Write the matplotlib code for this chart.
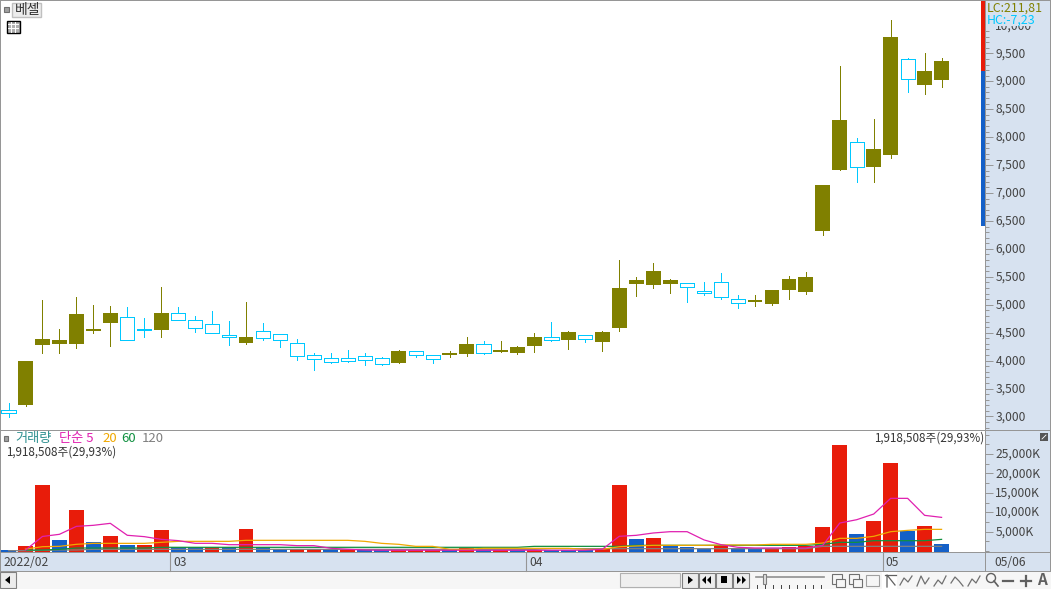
import matplotlib
matplotlib.use("Agg")
import matplotlib.pyplot as plt
from matplotlib.patches import Rectangle, Polygon
from matplotlib.ticker import MultipleLocator, FixedLocator, FuncFormatter
from matplotlib.transforms import ScaledTranslation
import numpy as np

plt.rcParams['font.family'] = ['Noto Sans CJK KR', 'DejaVu Sans']

W, H = 1051, 589

# price data
opens = [3111, 3206, 4280, 4298, 4298, 4530, 4674, 4776, 4565, 4548, 4847, 4722, 4650, 4459,
         4316, 4525, 4471, 4310, 4095, 4042, 4042, 4078, 4042, 3958, 4167, 4095, 4101, 4119,
         4292, 4155, 4137, 4262, 4418, 4369, 4453, 4334, 4584, 5372, 5354, 5372, 5384, 5241,
         5402, 5098, 5049, 5014, 5264, 5228, 6320, 7412, 7908, 7466, 7681, 9394, 8934, 9023]
closes = [3068, 3993, 4387, 4369, 4835, 4566, 4853, 4375, 4555, 4853, 4733, 4590, 4500, 4423,
          4423, 4410, 4375, 4088, 4035, 3981, 3999, 4017, 3945, 4172, 4106, 4035, 4137, 4298,
          4142, 4190, 4244, 4423, 4375, 4513, 4393, 4513, 5300, 5443, 5604, 5443, 5324, 5205,
          5134, 5026, 5085, 5264, 5461, 5497, 7144, 8307, 7471, 7788, 9793, 9036, 9184, 9363]
highs = [3236, 3993, 5085, 4566, 5139, 4996, 4978, 4960, 4763, 5318, 4960, 4799, 4888, 4709,
         5050, 4674, 4471, 4387, 4137, 4131, 4190, 4131, 4060, 4190, 4167, 4095, 4172, 4423,
         4351, 4351, 4262, 4495, 4692, 4530, 4453, 4530, 5801, 5497, 5748, 5461, 5384, 5408,
         5569, 5175, 5175, 5264, 5515, 5587, 7144, 9274, 7985, 8325, 10097, 9417, 9507, 9417]
lows = [2996, 3188, 4142, 4142, 4226, 4500, 4262, 4375, 4423, 4423, 4733, 4513, 4500, 4280,
        4298, 4369, 4244, 4011, 3832, 3958, 3981, 3922, 3922, 3958, 4065, 3958, 4065, 4083,
        4119, 4155, 4119, 4155, 4351, 4208, 4334, 4172, 4536, 5157, 5300, 5211, 5049, 5175,
        5103, 4942, 4978, 4996, 5103, 5193, 6249, 7412, 7198, 7198, 7627, 8809, 8773, 8898]

# volume in thousands of shares
volumes = [260, 1290, 16900, 2840, 10570, 2320, 3870, 1550, 1550, 5410, 950, 950, 950, 950,
           5670, 950, 430, 430, 430, 430, 260, 260, 130, 130, 130, 130, 130, 860,
           130, 130, 130, 260, 260, 260, 260, 430, 17000, 3090, 3350, 1380, 1030, 600,
           1380, 860, 600, 600, 1030, 1200, 6180, 27320, 4380, 7730, 22680, 5150, 6440, 1918]
is_red = [0, 1, 1, 0, 1, 0, 1, 0, 1, 1, 0, 0, 1, 0,
          1, 0, 0, 1, 1, 0, 1, 0, 0, 1, 1, 1, 0, 1,
          0, 1, 0, 1, 0, 0, 0, 1, 1, 0, 1, 0, 0, 0,
          1, 0, 0, 1, 1, 1, 1, 1, 0, 1, 1, 0, 1, 0]

ma5 = [None, 250, 3750, 4300, 6350, 6620, 7130, 4050, 3700, 3000, 2670, 1980, 1980, 1630,
       1630, 1630, 1630, 1380, 1380, 700, 430, 250, 200, 200, 200, 200, 200, 200,
       200, 200, 200, 200, 200, 200, 200, 430, 3790, 4040, 4640, 4980, 4980, 2850,
       1630, 950, 780, 780, 780, 780, 1460, 7210, 8070, 9530, 13570, 13570, 9190, 8670]
ma20 = [None, 500, 1110, 1200, 1720, 1970, 1970, 1970, 1970, 2230, 2490, 2490, 2490, 2490,
        2750, 2750, 2750, 2750, 2750, 2750, 2750, 2490, 1970, 1720, 1200, 1200, 430, 430,
        690, 690, 690, 690, 690, 690, 430, 430, 1110, 1290, 1460, 1460, 1460, 1460,
        1550, 1550, 1550, 1720, 1720, 1720, 2060, 3260, 3260, 3780, 4980, 5320, 5580, 5580]
ma60 = [None, 240, 240, 430, 770, 770, 770, 770, 770, 950, 950, 950, 950, 950,
        950, 950, 950, 950, 950, 950, 950, 950, 950, 950, 950, 950, 950, 950,
        950, 950, 950, 1200, 1200, 1200, 1200, 1200, 1200, 1460, 1460, 1460, 1460, 1460,
        1460, 1460, 1460, 1460, 1460, 1460, 1720, 2230, 2230, 2660, 2660, 2660, 2660, 3000]
ma120 = [80, 80, 170, 260, 260, 430, 430, 430, 430, 430, 430, 430, 430, 430,
         430, 430, 430, 430, 430, 430, 430, 430, 430, 430, 430, 430, 430, 430,
         430, 430, 430, 430, 600, 600, 600, 600, 600, 600, 600, 600, 600, 600,
         600, 600, 600, 600, 600, 600, 1200, 1200, 1200, 1200, 1200, 1200, 1200, 1200]

date_labels = ["2022/02", "03", "04", "05"]
date_idx = [0, 10, 31, 52]
vol_ticks = [5000, 10000, 15000, 20000, 25000]

x = np.arange(len(opens))

OLIVE = '#808000'
CYAN = '#00c8ff'
RED = '#e81c0a'
BLUE = '#1460c8'
STRIP = '#d7e2f0'
GRID = '#969696'
TXT = '#444444'


def px_axes(left, top, right, bottom):
    return fig.add_axes([left / W, 1 - bottom / H, (right - left) / W, (bottom - top) / H])


fig = plt.figure(figsize=(W / 100, H / 100), dpi=100, facecolor=STRIP)

# price pane
ax = px_axes(0.5, 0.5, 985, 430.5)
ax.set_xlim(-0.474, 57.56)
ax.set_ylim(2749, 10446)
for i in x:
    up = closes[i] >= opens[i]
    col = OLIVE if up else CYAN
    ax.vlines(i, lows[i], highs[i], color=col, lw=0.72, antialiased=False, zorder=2)
    lo = min(opens[i], closes[i])
    hi = max(opens[i], closes[i])
    if up:
        ax.bar(i, hi - lo, bottom=lo, width=0.87, color=col, antialiased=False, zorder=3)
    else:
        ax.bar(i, hi - lo, bottom=lo, width=0.84, facecolor='white', edgecolor=col,
               lw=0.72, antialiased=False, zorder=3)

# volume pane
ax2 = px_axes(0.5, 431, 985, 552)
ax2.set_xlim(-0.474, 57.56)
vmin = -258
ax2.set_ylim(vmin, 30930)
for i in x:
    ax2.bar(i, volumes[i] - vmin, bottom=vmin, width=0.87, color=RED if is_red[i] else BLUE,
            antialiased=False, zorder=2)
ax2.plot(x, [np.nan if v is None else v for v in ma120], color='#808080', lw=0.9, zorder=3)
ax2.plot(x, [np.nan if v is None else v for v in ma60], color='#109040', lw=0.9, zorder=4)
ax2.plot(x, [np.nan if v is None else v for v in ma20], color='#f0a800', lw=0.9, zorder=5)
ax2.plot(x, [np.nan if v is None else v for v in ma5], color='#e020b0', lw=0.9, zorder=6)

for a in (ax, ax2):
    a.set_xticks([])
    a.yaxis.tick_right()
    for s in a.spines.values():
        s.set_visible(False)
    a.tick_params(axis='y', which='major', length=6, width=0.7, color=GRID, labelcolor=TXT,
                  labelsize=8.7, pad=1.5)
    a.tick_params(axis='y', which='minor', length=3, width=0.7, color=GRID)

ax.yaxis.set_major_locator(MultipleLocator(500))
ax.yaxis.set_minor_locator(MultipleLocator(100))
ax.yaxis.set_major_formatter(FuncFormatter(lambda v, p: f"{int(v):,}"))
ax2.yaxis.set_major_locator(FixedLocator(vol_ticks))
ax2.yaxis.set_minor_locator(MultipleLocator(2500))
ax2.yaxis.set_major_formatter(FuncFormatter(lambda v, p: f"{int(v):,}K"))

# tick labels sit a pixel low with this font
nudge = ScaledTranslation(0, 1.2 / 100, fig.dpi_scale_trans)
for a in (ax, ax2):
    for t in a.yaxis.get_major_ticks():
        t.label2.set_transform(t.label2.get_transform() + nudge)

# window chrome on top, in pixel coordinates
ui = fig.add_axes([0, 0, 1, 1], zorder=10)
ui.set_xlim(0, W)
ui.set_ylim(H, 0)
ui.axis('off')
ui.patch.set_alpha(0)


def box(x0, y0, x1, y1, fc='none', ec='none', lw=0.8, z=1):
    ui.add_patch(Rectangle((x0, y0), x1 - x0, y1 - y0, facecolor=fc, edgecolor=ec, lw=lw, zorder=z))


def label(tx, ty, s, color=TXT, size=9.5, ha='left', **kw):
    ui.text(tx, ty, s, color=color, fontsize=size, ha=ha, va='center', zorder=5, **kw)


def idx_px(i):
    return 8.54 + 16.963 * i


# frame lines, right strip top cover, range bar
box(986, 1, W - 1, 25.5, fc=STRIP, z=2)
box(0, 0, W, 1, fc=GRID, z=3)
box(0, 0, 1, 572, fc=GRID, z=3)
box(W - 1, 0, W, 572, fc=GRID, z=3)
box(0, 430, W, 431, fc=GRID, z=3)
box(985, 0, 986, 572, fc=GRID, z=3)
box(981, 1, 984.5, 71, fc=RED)
box(981, 71, 984.5, 226, fc=BLUE)

label(987, 8, "LC:211,81", color=OLIVE, size=8.9)
label(987, 20, "HC:-7,23", color=CYAN, size=8.9)

# name button and table icon
box(4, 6.5, 9, 11.5, fc='#a0a0a0', ec='#707070')
box(11.5, 2.5, 40.5, 16.5, fc='#ececec', ec='#c0c0c0', lw=1)
label(15, 10, "베셀", color='#333333', size=10)
box(6.5, 20.5, 19.5, 33, fc='#b0b0b0', ec='black', lw=1)
for gx in (11, 15):
    ui.plot([gx, gx], [22, 32], color='white', lw=0.7, zorder=3)
for gy in (24, 28):
    ui.plot([8, 18], [gy, gy], color='white', lw=0.7, zorder=3)

# volume legend
box(4, 436, 8, 441, fc='#a0a0a0', ec='#707070')
label(15, 438.5, "거래량", color='#2f9090')
label(59, 438.5, "단순 5", color='#e020b0')
label(102, 438.5, "20", color='#f0a800')
label(121, 438.5, "60", color='#109040')
label(142, 438.5, "120", color='#808080')
label(6, 452, "1,918,508주(29,93%)", color='#333333', size=8.4)
label(984, 438.5, "1,918,508주(29,93%)", color='#333333', size=8.4, ha='right')
box(1040, 433, 1048, 441, fc='#555555', z=4)
ui.plot([1042, 1046], [439, 435], color='white', lw=0.6, zorder=5)

# date strip
box(0, 552, W, 553, fc=GRID, z=3)
box(0, 571, W, 572, fc=GRID, z=3)
for i, s in zip(date_idx, date_labels):
    dx = idx_px(i) - 8 if i else 0
    if i:
        ui.plot([dx, dx], [553, 571], color=GRID, lw=0.8, zorder=3)
    label(dx + 3, 562, s, size=8.7)
label(994, 562, "05/06", size=8.7)

# bottom toolbar
box(0, 572, W, H, fc='#f6f6f6', z=1)
box(0, 572, 16, 588, fc='#ececec', ec='#808080')
ui.add_patch(Polygon([[10, 576], [10, 584], [5, 580]], fc='black', zorder=3))
box(620, 573, 680, 587, fc='#efefef', ec='#b0b0b0')
for bx in (682, 699, 716, 733):
    box(bx, 572.5, bx + 16, 587.5, fc='#ececec', ec='#808080')
ui.add_patch(Polygon([[688, 576], [688, 584], [693, 580]], fc='black', zorder=3))
ui.add_patch(Polygon([[706, 576], [706, 584], [702, 580]], fc='black', zorder=3))
ui.add_patch(Polygon([[711, 576], [711, 584], [707, 580]], fc='black', zorder=3))
box(721, 576, 727, 583, fc='black', z=3)
ui.add_patch(Polygon([[737, 576], [737, 584], [741, 580]], fc='black', zorder=3))
ui.add_patch(Polygon([[742, 576], [742, 584], [746, 580]], fc='black', zorder=3))
ui.plot([756, 824], [577, 577], color='#909090', lw=1.2, zorder=3)
box(763, 574, 766, 584, fc='#e0e0e0', ec='#808080', z=4)
for tx in range(757, 824, 8):
    ui.plot([tx, tx], [585, 588], color='#404040', lw=0.7, zorder=3)
for ix in (832, 849):
    box(ix, 574, ix + 10, 584, fc='none', ec='#707070', z=3)
    box(ix + 4, 579, ix + 13, 587, fc='#f6f6f6', ec='#707070', z=3)
box(866, 575, 879, 586, fc='none', ec='#a0a0a0', z=3)
box(882, 572, 897, 589, fc='white', z=2)
ui.plot([885, 896], [575, 575], color='#606060', lw=0.9, zorder=3)
ui.plot([887, 887, 895], [587, 575, 585], color='#606060', lw=0.9, zorder=3)
for ix, ys in zip((900, 917, 934, 951, 968),
                  ([585, 578, 582, 576], [586, 576, 584, 578], [586, 580, 584, 576],
                   [583, 577, 581, 586], [586, 579, 583, 576])):
    ui.plot(np.linspace(ix, ix + 12, 4), ys, color='#707070', lw=0.9, zorder=3)
ui.add_patch(plt.Circle((991, 578), 4.5, fc='none', ec='#606060', lw=1, zorder=3))
ui.plot([994, 998], [581, 586], color='#606060', lw=1.2, zorder=3)
ui.plot([1003, 1013], [581, 581], color='#606060', lw=1.6, zorder=3)
ui.plot([1021, 1031], [581, 581], color='#606060', lw=1.6, zorder=3)
ui.plot([1026, 1026], [576, 586], color='#606060', lw=1.6, zorder=3)
label(1042, 580, "A", color='#606060', size=11, ha='center', fontweight='bold')

fig.savefig("out.png", dpi=100, facecolor=fig.get_facecolor())
